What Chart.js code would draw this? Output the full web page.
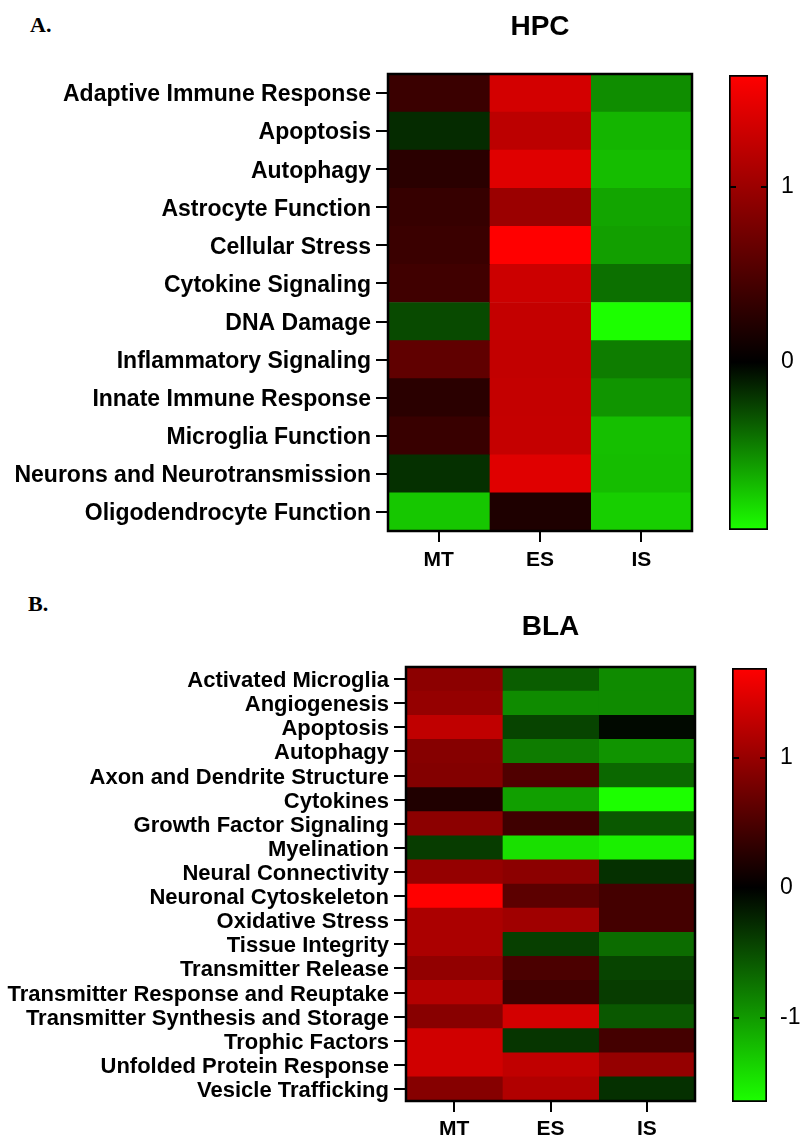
<!DOCTYPE html>
<html>
<head>
<meta charset="utf-8">
<script src="https://cdn.jsdelivr.net/npm/chart.js@4.4.0/dist/chart.umd.min.js"></script>
<style>
  html, body { margin: 0; padding: 0; background: #fff; overflow: hidden; }
  #page { position: relative; width: 800px; height: 1140px; }
  canvas { position: absolute; display: block; }
  .panel-tag {
    position: absolute;
    font-family: "Liberation Serif", "Times New Roman", serif;
    font-weight: bold; font-size: 22px; line-height: 22px; color: #000;
  }
</style>
</head>
<body>
<div id="page">
  <div class="panel-tag" style="left:30px; top:14px;">A.</div>
  <div class="panel-tag" style="left:28px; top:593px;">B.</div>
  <canvas id="hpcMap" width="700" height="586" style="left:0; top:0;"></canvas>
  <canvas id="hpcBar" width="100" height="586" style="left:700px; top:0;"></canvas>
  <canvas id="blaMap" width="700" height="550" style="left:0; top:590px;"></canvas>
  <canvas id="blaBar" width="100" height="550" style="left:700px; top:590px;"></canvas>
</div>
<script>
// ---- Data -------------------------------------------------------------
const groups = ['MT', 'ES', 'IS'];

const hpcRows = [
  'Adaptive Immune Response', 'Apoptosis', 'Autophagy', 'Astrocyte Function',
  'Cellular Stress', 'Cytokine Signaling', 'DNA Damage', 'Inflammatory Signaling',
  'Innate Immune Response', 'Microglia Function', 'Neurons and Neurotransmission',
  'Oligodendrocyte Function'
];
const hpcMT = [0.37, -0.16, 0.27, 0.35, 0.37, 0.41, -0.28, 0.62, 0.27, 0.36, -0.18, -0.75];
const hpcES = [1.36, 1.21, 1.44, 1.00, 1.64, 1.31, 1.26, 1.25, 1.26, 1.27, 1.44, 0.19];
const hpcIS = [-0.53, -0.68, -0.71, -0.62, -0.60, -0.42, -0.96, -0.47, -0.56, -0.72, -0.71, -0.78];
const hpcBarTicks = [0, 1];

const blaRows = [
  'Activated Microglia', 'Angiogenesis', 'Apoptosis', 'Autophagy',
  'Axon and Dendrite Structure', 'Cytokines', 'Growth Factor Signaling', 'Myelination',
  'Neural Connectivity', 'Neuronal Cytoskeleton', 'Oxidative Stress', 'Tissue Integrity',
  'Transmitter Release', 'Transmitter Response and Reuptake',
  'Transmitter Synthesis and Storage', 'Trophic Factors', 'Unfolded Protein Response',
  'Vesicle Trafficking'
];
const blaMT = [0.93, 0.99, 1.27, 0.89, 0.87, 0.21, 0.93, -0.39, 0.99, 1.69, 1.13, 1.13, 0.97, 1.19, 0.90, 1.38, 1.38, 0.89];
const blaES = [-0.60, -0.90, -0.44, -0.80, 0.53, -1.03, 0.42, -1.45, 0.93, 0.61, 1.06, -0.41, 0.50, 0.42, 1.40, -0.34, 1.27, 1.17];
const blaIS = [-0.90, -0.90, -0.06, -0.96, -0.67, -1.65, -0.57, -1.55, -0.31, 0.45, 0.45, -0.70, -0.44, -0.39, -0.57, 0.45, 0.99, -0.31];
const blaBarTicks = [-1, 0, 1];

// ---- Styling helpers ----------------------------------------------------
const SANS = '"Liberation Sans", Arial, Helvetica, sans-serif';
const RED_END = [255, 0, 0];
const GREEN_END = [28, 255, 0];

// green -> black -> red, each half scaled to the data extreme on that side
function heatColor(v, lo, hi) {
  const end = v >= 0 ? RED_END : GREEN_END;
  const t = v >= 0 ? v / hi : v / lo;
  return 'rgb(' + end.map(c => Math.round(c * t)).join(',') + ')';
}
function rgb(a) { return 'rgb(' + a.join(',') + ')'; }

const framePlugin = {
  id: 'frame',
  afterDatasetsDraw(chart) {
    const { ctx, chartArea: a } = chart;
    ctx.save();
    ctx.strokeStyle = '#000';
    ctx.lineWidth = 2.5;
    ctx.strokeRect(a.left, a.top, a.width, a.height);
    ctx.restore();
  }
};

const innerTicks = {
  id: 'innerTicks',
  afterDatasetsDraw(chart) {
    const y = chart.scales.y, a = chart.chartArea, ctx = chart.ctx;
    ctx.save();
    ctx.strokeStyle = '#000';
    ctx.lineWidth = 2;
    y.ticks.forEach(t => {
      const py = Math.round(y.getPixelForValue(t.value));
      ctx.beginPath();
      ctx.moveTo(a.left, py); ctx.lineTo(a.left + 7, py);
      ctx.moveTo(a.right - 7, py); ctx.lineTo(a.right, py);
      ctx.stroke();
    });
    ctx.restore();
  }
};

function extent(series) {
  const all = series.flat();
  return [Math.min(...all), Math.max(...all)];
}

// ---- Heat map: one stacked horizontal bar per row, one segment per group
function heatmap(id, rows, series, title, o) {
  const [lo, hi] = extent(series);
  return new Chart(document.getElementById(id), {
    type: 'bar',
    data: {
      labels: rows,
      datasets: series.map((vals, i) => ({
        label: groups[i],
        data: vals.map(() => 1),
        backgroundColor: vals.map(v => heatColor(v, lo, hi)),
        borderWidth: 0,
        barPercentage: 1,
        categoryPercentage: 1
      }))
    },
    options: {
      indexAxis: 'y',
      responsive: false,
      animation: false,
      devicePixelRatio: 1,
      events: [],
      layout: { padding: { top: 0, right: o.right, bottom: 0, left: 0 } },
      plugins: {
        legend: { display: false },
        tooltip: { enabled: false },
        title: {
          display: true, text: title, fullSize: false, color: '#000',
          font: { family: SANS, size: 28, weight: 'bold' },
          padding: { top: o.titleTop, bottom: o.titleBottom }
        }
      },
      scales: {
        x: {
          type: 'linear', stacked: true, min: 0, max: groups.length,
          afterBuildTicks: s => { s.ticks = groups.map((g, i) => ({ value: i + 0.5 })); },
          afterFit: s => { s.height = o.xHeight; },
          ticks: {
            callback: (v, i) => groups[i], color: '#000', padding: o.xPad,
            maxRotation: 0, autoSkip: false,
            font: { family: SANS, size: 21, weight: 'bold' }
          },
          grid: { drawOnChartArea: false, tickLength: 11, color: '#000', lineWidth: 2 },
          border: { display: false }
        },
        y: {
          type: 'category', stacked: true, offset: true,
          afterFit: s => { s.width = o.left; },
          ticks: {
            color: '#000', padding: 5, autoSkip: false, labelOffset: 2,
            font: { family: SANS, size: o.rowFont, weight: 'bold' }
          },
          grid: { drawOnChartArea: false, offset: false, tickLength: 12, color: '#000', lineWidth: 2 },
          border: { display: false }
        }
      }
    },
    plugins: [framePlugin]
  });
}

// ---- Colour scale bar: a single floating bar spanning the data range ----
function colorBar(id, series, tickVals, o) {
  const [lo, hi] = extent(series);
  return new Chart(document.getElementById(id), {
    type: 'bar',
    data: {
      labels: [''],
      datasets: [{
        data: [[lo, hi]],
        backgroundColor: ctx => {
          const chart = ctx.chart;
          if (!chart.chartArea) return '#000';
          const y = chart.scales.y;
          const g = chart.ctx.createLinearGradient(0, y.getPixelForValue(lo), 0, y.getPixelForValue(hi));
          g.addColorStop(0, rgb(GREEN_END));
          g.addColorStop(-lo / (hi - lo), '#000');
          g.addColorStop(1, rgb(RED_END));
          return g;
        },
        borderColor: '#000',
        borderWidth: 2,
        borderSkipped: false,
        barPercentage: 1,
        categoryPercentage: 1
      }]
    },
    options: {
      responsive: false,
      animation: false,
      devicePixelRatio: 1,
      events: [],
      layout: { padding: { left: o.left, top: o.top, bottom: o.bottom, right: 0 } },
      plugins: { legend: { display: false }, tooltip: { enabled: false } },
      scales: {
        x: { display: false },
        y: {
          position: 'right', min: lo, max: hi,
          afterBuildTicks: s => { s.ticks = tickVals.map(v => ({ value: v })); },
          afterFit: s => { s.width = o.axisWidth; },
          ticks: { color: '#000', padding: 13, callback: v => String(v), font: { family: SANS, size: 23 } },
          grid: { display: false, drawTicks: false },
          border: { display: false }
        }
      }
    },
    plugins: [innerTicks]
  });
}

heatmap('hpcMap', hpcRows, [hpcMT, hpcES, hpcIS], 'HPC',
  { left: 388, right: 8, xHeight: 55, xPad: 6, titleTop: 10.5, titleBottom: 29.9, rowFont: 23 });
colorBar('hpcBar', [hpcMT, hpcES, hpcIS], hpcBarTicks,
  { left: 29, top: 75, bottom: 56, axisWidth: 32 });

heatmap('blaMap', blaRows, [blaMT, blaES, blaIS], 'BLA',
  { left: 406, right: 5, xHeight: 39, xPad: 5, titleTop: 20.2, titleBottom: 23.2, rowFont: 22 });
colorBar('blaBar', [blaMT, blaES, blaIS], blaBarTicks,
  { left: 32, top: 78, bottom: 38, axisWidth: 33 });
</script>
</body>
</html>
